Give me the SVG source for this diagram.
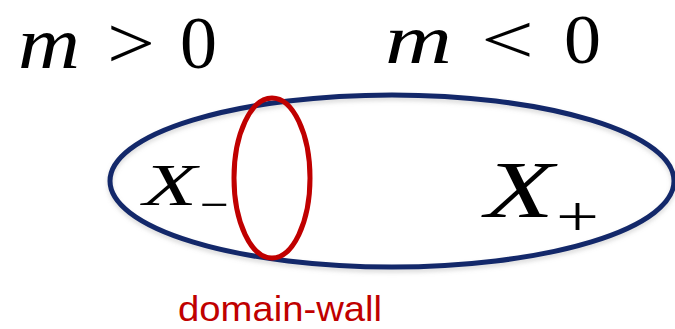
<svg xmlns="http://www.w3.org/2000/svg" width="675" height="329" viewBox="0 0 675 329">
<style>
.math{font-family:"Liberation Serif","DejaVu Serif",serif;fill:#000}
.it{font-style:italic}
.lbl{font-family:"Liberation Sans","Noto Sans",sans-serif;fill:#c00000}
</style>
<defs>
<filter id="sh" x="-10%" y="-10%" width="120%" height="130%"><feGaussianBlur stdDeviation="2"/></filter>
</defs>
<rect width="675" height="329" fill="#ffffff"/>
<g id="labels-top">
<text class="math it" x="18" y="68" font-size="74" textLength="62" lengthAdjust="spacingAndGlyphs">m</text>
<text class="math" x="107" y="68" font-size="74" textLength="48" lengthAdjust="spacingAndGlyphs">&gt;</text>
<text class="math" x="180" y="68" font-size="74">0</text>
<text class="math it" x="385" y="63" font-size="70" textLength="67" lengthAdjust="spacingAndGlyphs">m</text>
<text class="math" x="481" y="63" font-size="70" textLength="53" lengthAdjust="spacingAndGlyphs">&lt;</text>
<text class="math" x="564" y="63" font-size="70" textLength="37" lengthAdjust="spacingAndGlyphs">0</text>
</g>
<g id="space">
<ellipse cx="392" cy="184" rx="282" ry="86" fill="none" stroke="#999" stroke-opacity="0.35" stroke-width="5" filter="url(#sh)"/>
<ellipse cx="392" cy="181" rx="282" ry="86" fill="none" stroke="#13286a" stroke-width="5"/>
</g>
<g id="domain-wall">
<ellipse cx="272" cy="178" rx="38" ry="80" fill="none" stroke="#c00000" stroke-width="5"/>
<text class="lbl" x="178" y="321" font-size="35" textLength="204" lengthAdjust="spacingAndGlyphs">domain-wall</text>
</g>
<g id="x-minus">
<text class="math it" x="143" y="205" font-size="60" textLength="54" lengthAdjust="spacingAndGlyphs">X</text>
<text class="math" x="200" y="220" font-size="46" textLength="29" lengthAdjust="spacingAndGlyphs">−</text>
</g>
<g id="x-plus">
<text class="math it" x="485" y="217" font-size="81" textLength="69" lengthAdjust="spacingAndGlyphs">X</text>
<text class="math" x="556" y="236" font-size="56" textLength="43" lengthAdjust="spacingAndGlyphs">+</text>
</g>
</svg>
